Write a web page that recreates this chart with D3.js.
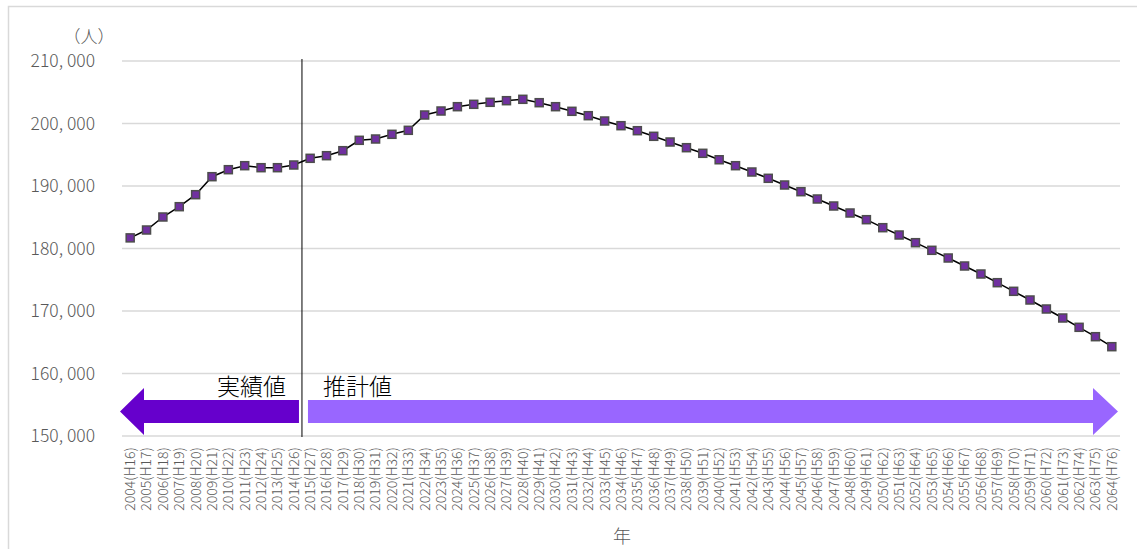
<!DOCTYPE html>
<html><head><meta charset="utf-8">
<script src="https://cdn.jsdelivr.net/npm/d3@7"></script>
<style>
html,body{margin:0;padding:0;background:#fff;}
svg{display:block;font-family:"Noto Sans CJK JP","Noto Sans",sans-serif;}
.lbl{font-weight:300;}
</style></head>
<body><svg id="chart" width="1137" height="549"></svg>
<script>
const years = d3.range(2004, 2065);
const eraLabels = years.map(y => y + "(H" + (y - 1988) + ")");
const population = [
  181700, 182960, 185040, 186690, 188610, 191490, 192610, 193250, 192930, 192930,
  193360, 194430, 194850, 195650, 197310, 197520, 198270, 198910, 201360, 202000,
  202690, 203070, 203390, 203650, 203870, 203330, 202690, 201950, 201250, 200400,
  199650, 198850, 197950, 197040, 196130, 195230, 194200, 193250, 192240, 191230,
  190160, 189090, 187920, 186800, 185680, 184610, 183330, 182160, 180930, 179710,
  178480, 177200, 175920, 174530, 173150, 171760, 170320, 168880, 167390, 165890,
  164290
];
const yTicks = [150000, 160000, 170000, 180000, 190000, 200000, 210000];
const firstForecastYear = 2015;
const unitLabel = "（人）";
const xTitle = "年";
const actualLabel = "実績値";
const forecastLabel = "推計値";

const svg = d3.select("#chart");
const plotL = 122, plotR = 1120, plotT = 61, plotB = 436;

svg.append("rect").attr("x", 8.5).attr("y", 6.5).attr("width", 1200).attr("height", 600)
  .attr("fill", "none").attr("stroke", "#d9d9d9").attr("stroke-width", 1.5);

const x = d3.scaleBand().domain(years).range([plotL, plotR]).padding(0);
const cx = d => x(d) + x.bandwidth() / 2;
const y = d3.scaleLinear().domain([150000, 210000]).range([plotB, plotT]);

// gridlines
svg.append("g").selectAll("line").data(yTicks).join("line")
  .attr("x1", plotL).attr("x2", plotR)
  .attr("y1", d => y(d)).attr("y2", d => y(d))
  .attr("stroke", "#d9d9d9").attr("stroke-width", 1.5);

// y labels
const fmt = d3.format(",");
svg.append("g").selectAll("text").data(yTicks).join("text")
  .attr("class", "lbl")
  .attr("x", 95).attr("y", d => y(d)).attr("dy", "0.35em")
  .attr("text-anchor", "end").attr("fill", "#595959")
  .attr("font-size", 17.5).text(d => fmt(d).replace(",", ", "));

svg.append("text").attr("class", "lbl").attr("x", 89).attr("y", 37).attr("dy", "0.35em")
  .attr("text-anchor", "middle").attr("fill", "#595959").attr("font-size", 17)
  .text(unitLabel);

// x labels
svg.append("g").selectAll("text").data(years).join("text")
  .attr("class", "lbl")
  .attr("transform", d => `translate(${cx(d)},447) rotate(-90)`)
  .attr("dy", "0.35em").attr("text-anchor", "end")
  .attr("fill", "#595959").attr("font-size", 14)
  .text((d, i) => eraLabels[i]);

svg.append("text").attr("class", "lbl").attr("x", 622).attr("y", 537).attr("dy", "0.35em")
  .attr("text-anchor", "middle").attr("fill", "#595959").attr("font-size", 18)
  .text(xTitle);

// arrows
const divX = x(firstForecastYear);
const bodyTop = 400, bodyBot = 423, headTop = 388, headBot = 435, midY = (bodyTop + bodyBot) / 2;
svg.append("path")
  .attr("d", `M${plotL - 2},${midY} L${plotL + 22},${headTop} L${plotL + 22},${bodyTop} L${divX - 3},${bodyTop} L${divX - 3},${bodyBot} L${plotL + 22},${bodyBot} L${plotL + 22},${headBot} Z`)
  .attr("fill", "#6600CC");
svg.append("path")
  .attr("d", `M${divX + 6},${bodyTop} L${plotR - 27},${bodyTop} L${plotR - 27},${headTop} L${plotR - 2},${midY} L${plotR - 27},${headBot} L${plotR - 27},${bodyBot} L${divX + 6},${bodyBot} Z`)
  .attr("fill", "#9966FF");

svg.append("text").attr("class", "lbl").attr("x", divX - 16).attr("y", 395).attr("text-anchor", "end")
  .attr("font-size", 23).attr("fill", "#000").text(actualLabel);
svg.append("text").attr("class", "lbl").attr("x", divX + 21).attr("y", 395).attr("text-anchor", "start")
  .attr("font-size", 23).attr("fill", "#000").text(forecastLabel);

// divider
svg.append("line").attr("x1", divX).attr("x2", divX).attr("y1", 59).attr("y2", 437)
  .attr("stroke", "#000").attr("stroke-width", 1);

// line
const line = d3.line().x((d, i) => cx(years[i])).y(d => y(d));
svg.append("path").datum(population).attr("d", line)
  .attr("fill", "none").attr("stroke", "#000").attr("stroke-width", 1.5);

svg.append("g").selectAll("rect").data(population).join("rect")
  .attr("x", (d, i) => cx(years[i]) - 4).attr("y", d => y(d) - 4)
  .attr("width", 8).attr("height", 8)
  .attr("fill", "#7030A0").attr("stroke", "#4d4d4d").attr("stroke-width", 1.5);
</script></body></html>
